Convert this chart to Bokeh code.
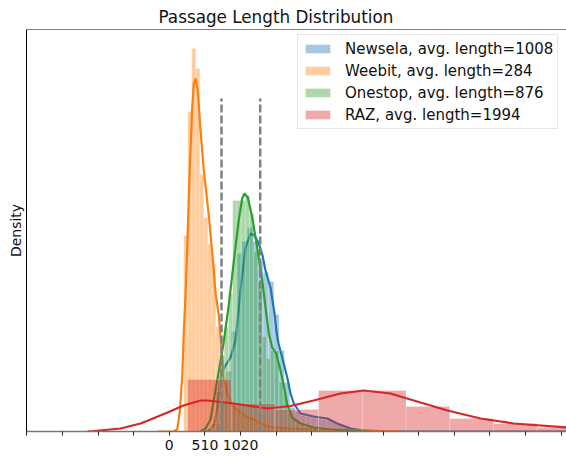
from bokeh.plotting import figure
from bokeh.models import Range1d, FixedTicker, Legend, LegendItem, Span
from bokeh.embed import file_html
from bokeh.resources import INLINE

# ---------------- data ----------------
title_text = "Passage Length Distribution"
y_label_text = "Density"

tick_values = [-2040, -1530, -1020, -510, 0, 510, 1020, 1530, 2040, 2550,
               3060, 3570, 4080, 4590, 5100, 5610]
tick_labels = {0: "0", 510: "510", 1020: "1020"}

series_names = ["Newsela", "Weebit", "Onestop", "RAZ"]
series_avg = [1008, 284, 876, 1994]
series_colors = ["#1f77b4", "#ff7f0e", "#2ca02c", "#d62728"]

# histograms: first bin edge, bin width, bar heights (density x 1e-5)
newsela_bin_start = 661
newsela_bin_width = 75.9
newsela_hist = [8, 30, 60, 100, 178, 190, 204, 190, 170, 159, 150, 117, 81, 49,
                24, 20, 16, 15, 14, 13, 12, 11, 9, 7, 5, 3, 2, 1]

weebit_bin_start = 207.5
weebit_bin_width = 57.25
weebit_hist = [196, 320, 383, 363, 257, 214, 188, 168, 105, 76, 50, 35, 26, 20,
               16, 15, 14, 14, 12, 10, 8, 7, 6, 5, 5, 4, 4, 4, 3, 3, 3, 3, 2, 2,
               2, 2, 2, 2, 2, 2, 1, 1, 1, 1, 1, 1, 1, 1, 1, 1, 1, 1, 1, 1]

onestop_bin_start = 547
onestop_bin_width = 60.1
onestop_hist = [3, 8, 40, 76, 104, 138, 231, 231, 231, 236, 218, 180, 150, 95,
                73, 81, 81, 50, 38, 18, 12, 9, 7, 5, 4, 3, 2, 2, 1, 1]

raz_bin_start = 260.5
raz_bin_width = 625.5
raz_hist = [52, 28, 22, 41, 41, 25, 13, 8, 4]

# KDE curves (length, density x 1e-5)
newsela_kde_x = [518, 590, 647, 690, 733, 804, 876, 948, 1019, 1091, 1162, 1219,
                 1281, 1334, 1377, 1448, 1506, 1534, 1563, 1616, 1688, 1735,
                 1782, 1878, 2064, 2260, 2403, 2594, 2780, 2951, 5700]
newsela_kde_y = [0, 2, 8, 25, 55, 66, 74, 91, 141, 184, 198, 196, 188, 176, 161,
                 144, 118, 100, 88, 74, 54, 38, 28, 18, 15, 13, 8, 3, 1, 0, 0]

weebit_kde_x = [-169, 60, 113, 150, 185, 208, 232, 256, 279, 293, 328, 351, 375,
                408, 447, 494, 565, 614, 661, 708, 757, 780, 829, 923, 1019,
                1115, 1187, 1281, 1424, 1616, 1854, 2164, 2594, 3281]
weebit_kde_y = [0, 0, 2, 20, 55, 100, 136, 183, 233, 262, 324, 348, 353, 341,
                301, 261, 216, 179, 139, 116, 74, 54, 38, 24, 19, 14, 13, 9, 5,
                3.3, 2.7, 2, 1.5, 0]

onestop_kde_x = [447, 518, 590, 633, 708, 780, 852, 923, 995, 1043, 1076, 1124,
                 1187, 1258, 1330, 1377, 1424, 1473, 1530, 1592, 1639, 1688,
                 1759, 1878, 2064, 2307, 2551, 2880]
onestop_kde_y = [0, 3, 12, 30, 60, 90, 127, 170, 212, 233, 238, 234, 214, 184,
                 151, 124, 98, 84, 78, 61, 46, 27, 14, 8, 4, 2, 1, 0]

raz_kde_x = [-1170, -1085, -698, -412, -269, -26, 203, 447, 547, 919, 1406,
             1735, 2064, 2450, 2780, 3166, 3595, 3982, 4454, 4927, 5700]
raz_kde_y = [0, 0.5, 3, 8, 12, 19, 26, 31, 31, 28, 23, 25.5, 31, 38, 41, 38, 29,
             21, 13, 8, 4]

# vertical reference lines
ref_line_x = [747, 1301]
ref_line_top = 333

# ---------------- figure ----------------
FONT = "DejaVu Sans"
p = figure(width=566, height=457, output_backend="svg", toolbar_location=None,
           x_range=Range1d(-2044, 5685), y_range=Range1d(0, 402),
           min_border_left=26, min_border_right=0, min_border_top=29,
           min_border_bottom=26)
p.outline_line_color = None
p.grid.visible = False
p.background_fill_color = "white"

p.title.text = title_text
p.title.align = "left"
p.title.offset = 132
p.title.standoff = 5
p.title.text_font = FONT
p.title.text_font_size = "16.8px"
p.title.text_font_style = "normal"
p.title.text_color = "#111111"

# x axis
p.xaxis.ticker = FixedTicker(ticks=tick_values)
p.xaxis.major_label_overrides = {t: tick_labels.get(t, "") for t in tick_values}
p.xaxis.major_label_text_font = FONT
p.xaxis.major_label_text_font_size = "14px"
p.xaxis.major_label_text_color = "#111111"
p.xaxis.major_label_standoff = 4
p.xaxis.major_tick_in = 0
p.xaxis.major_tick_out = 4
p.xaxis.major_tick_line_color = "#222222"
p.xaxis.minor_tick_line_color = None
p.xaxis.axis_line_color = "#777777"
p.xaxis.axis_line_width = 1.6

# y axis: spine and label only
p.yaxis.ticker = FixedTicker(ticks=[])
p.yaxis.major_tick_line_color = None
p.yaxis.minor_tick_line_color = None
p.yaxis.major_tick_out = 0
p.yaxis.minor_tick_out = 0
p.yaxis.major_label_standoff = 0
p.yaxis.major_label_text_font_size = "0px"
p.yaxis.axis_line_color = "black"
p.yaxis.axis_line_width = 1
p.yaxis.axis_label = y_label_text
p.yaxis.axis_label_standoff = 3
p.yaxis.axis_label_text_font = FONT
p.yaxis.axis_label_text_font_size = "14px"
p.yaxis.axis_label_text_font_style = "normal"
p.yaxis.axis_label_text_color = "#111111"

def hist(start, width, heights, color):
    left = [start + i * width for i in range(len(heights))]
    right = [l + width for l in left]
    return p.quad(left=left, right=right, bottom=0, top=heights,
                  fill_color=color, fill_alpha=0.4,
                  line_color="white", line_alpha=0.35, line_width=0.6)

bins = [(newsela_bin_start, newsela_bin_width, newsela_hist),
        (weebit_bin_start, weebit_bin_width, weebit_hist),
        (onestop_bin_start, onestop_bin_width, onestop_hist),
        (raz_bin_start, raz_bin_width, raz_hist)]
kdes = [(newsela_kde_x, newsela_kde_y), (weebit_kde_x, weebit_kde_y),
        (onestop_kde_x, onestop_kde_y), (raz_kde_x, raz_kde_y)]

hist_renderers = []
for (s, w, h), (kx, ky), c in zip(bins, kdes, series_colors):
    hist_renderers.append(hist(s, w, h, c))
    p.line(kx, ky, line_color=c, line_width=2.2)

p.segment(x0=ref_line_x, y0=[0] * len(ref_line_x), x1=ref_line_x,
          y1=[ref_line_top] * len(ref_line_x), line_color="#808080",
          line_width=2.5, line_dash="8 3")

# top spine
p.add_layout(Span(location=402, dimension="width", line_color="black",
                  line_width=1.2))

legend = Legend(items=[LegendItem(label=f"{n}, avg. length={a}", renderers=[r])
                       for n, a, r in zip(series_names, series_avg, hist_renderers)],
                location=(271, 302))
legend.label_text_font = FONT
legend.label_text_font_size = "15px"
legend.label_text_color = "#111111"
legend.glyph_width = 31
legend.glyph_height = 11
legend.label_height = 19
legend.label_standoff = 12
legend.spacing = 3
legend.padding = 4
legend.margin = 0
legend.border_line_color = "#cccccc"
legend.border_line_width = 1
legend.background_fill_alpha = 0.85
p.add_layout(legend)

open("out.html", "w").write(file_html(p, INLINE))
